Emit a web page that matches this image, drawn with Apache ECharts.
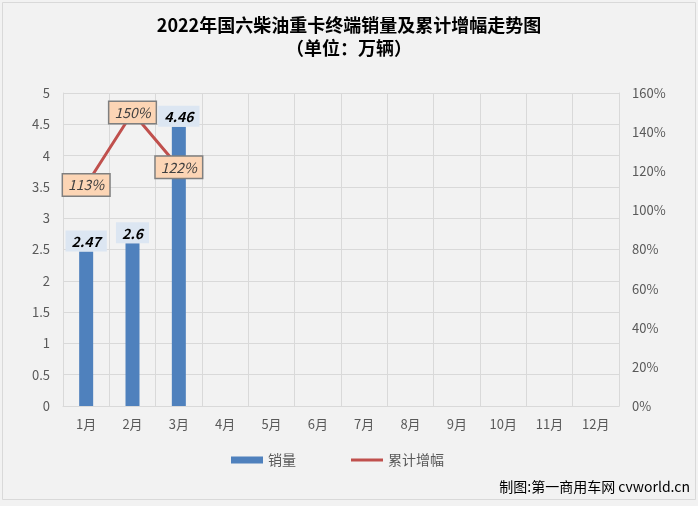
<!DOCTYPE html>
<html><head><meta charset="utf-8">
<script src="https://cdn.jsdelivr.net/npm/echarts@6/dist/echarts.min.js"></script>
<style>html,body{margin:0;padding:0;background:#F2F2F2}#c{width:698px;height:506px}</style>
</head><body><div id="c"></div>
<script>
const months = ['1月','2月','3月','4月','5月','6月','7月','8月','9月','10月','11月','12月'];
const sales = [2.47, 2.6, 4.46];
const growth = [113, 150, 122];
const titleText = '2022年国六柴油重卡终端销量及累计增幅走势图\n（单位：万辆）';
const credit = '制图:第一商用车网 cvworld.cn';

const chart = echarts.init(document.getElementById('c'), null, {renderer:'canvas'});
const font = '"Noto Sans CJK SC","Noto Sans",sans-serif';
chart.setOption({
  backgroundColor:'#F2F2F2',
  textStyle:{fontFamily:font},
  title:{text:titleText, left:'center', top:9,
    textStyle:{fontSize:18, fontWeight:'bold', color:'#000', lineHeight:23, fontFamily:font}},
  graphic:[
    {type:'rect', shape:{x:2.5,y:2.5,width:693,height:497}, style:{fill:null, stroke:'#D9D9D9', lineWidth:1}, silent:true, z:-1},
    {type:'text', right:8, top:480, style:{text:credit, fontSize:14, fill:'#000', fontFamily:font}}
  ],
  legend:{bottom:34, left:226, itemWidth:32, itemHeight:7, itemGap:55,
    textStyle:{fontSize:14, color:'#595959'},
    data:[{name:'销量', icon:'rect'}, {name:'累计增幅', icon:'path://M0,0H32V3H0Z'}]},
  grid:{left:63, right:79, top:93, bottom:100},
  xAxis:{type:'category', data:months, boundaryGap:true,
    axisLine:{lineStyle:{color:'#D9D9D9'}}, axisTick:{show:false},
    axisLabel:{fontSize:13, color:'#595959', margin:12},
    splitLine:{show:true, lineStyle:{color:'#D9D9D9'}}},
  yAxis:[
    {type:'value', min:0, max:5, interval:0.5, position:'left',
     axisLine:{show:true, lineStyle:{color:'#D9D9D9'}}, axisTick:{show:false},
     axisLabel:{fontSize:13, color:'#595959', margin:13},
     splitLine:{lineStyle:{color:'#D9D9D9'}}},
    {type:'value', min:0, max:160, interval:20, position:'right',
     axisLine:{show:true, lineStyle:{color:'#D9D9D9'}}, axisTick:{show:false},
     axisLabel:{fontSize:13, color:'#595959', formatter:'{value}%', margin:13},
     splitLine:{show:false}}
  ],
  series:[
    {name:'销量', type:'bar', data:sales, barWidth:14, itemStyle:{color:'#4F81BD'},
     label:{show:true, position:'top', distance:0, backgroundColor:'#DCE6F2', padding:[4,6,3,6],
       fontSize:14, fontStyle:'italic', fontWeight:'bold', color:'#000'}},
    {name:'累计增幅', type:'line', yAxisIndex:1, data:growth, symbol:'circle', symbolSize:0.1, showSymbol:true,
     lineStyle:{color:'#C0504D', width:3}, itemStyle:{color:'#C0504D'},
     label:{show:true, position:'inside', formatter:'{c}%', backgroundColor:'#FCD5B5',
       borderColor:'#7F7F7F', borderWidth:1.5, padding:[4,5,3,5],
       fontSize:14, fontStyle:'italic', color:'#404040'}}
  ]
});
</script></body></html>
